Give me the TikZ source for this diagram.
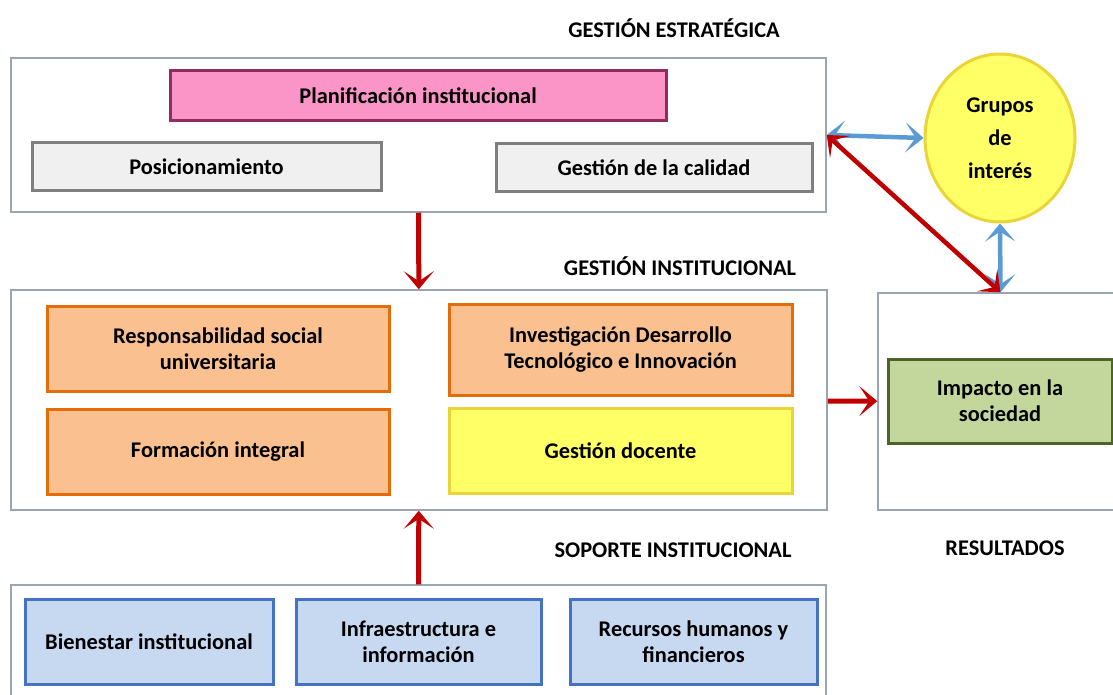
\documentclass[tikz,border=0pt]{standalone}
\usepackage{fontspec}
\setmainfont{Carlito}
\usetikzlibrary{arrows.meta,shapes.geometric}
\definecolor{rojo}{HTML}{C00000}
\definecolor{celeste}{HTML}{5B9BD5}
\definecolor{marco}{HTML}{9AA5B1}
\definecolor{rosafondo}{HTML}{FB95C8}
\definecolor{rosaborde}{HTML}{8E2F5B}
\definecolor{grisfondo}{HTML}{F0F0F0}
\definecolor{grisborde}{HTML}{7F7F7F}
\definecolor{naranjafondo}{HTML}{FAC08F}
\definecolor{naranjaborde}{HTML}{E46C0A}
\definecolor{amarillofondo}{HTML}{FFFF66}
\definecolor{amarilloborde}{HTML}{EBD43A}
\definecolor{verdefondo}{HTML}{C3D69B}
\definecolor{verdeborde}{HTML}{4F6228}
\definecolor{azulfondo}{HTML}{C6D9F1}
\definecolor{azulborde}{HTML}{4472C4}
\begin{document}
\begin{tikzpicture}[x=1pt,y=-1pt,
every node/.style={font=\fontsize{22.4}{26}\selectfont\bfseries, align=center, inner sep=0pt},
area/.style={draw=marco, line width=1.5pt, fill=white},
caja/.style={line width=3pt},
rosa/.style={caja, draw=rosaborde, fill=rosafondo, minimum height=50pt},
gris/.style={caja, draw=grisborde, fill=grisfondo, minimum height=48pt},
naranja/.style={caja, draw=naranjaborde, fill=naranjafondo, minimum width=342pt},
amarilla/.style={caja, draw=amarilloborde, fill=amarillofondo, minimum width=343pt},
verde/.style={caja, draw=verdeborde, fill=verdefondo},
azul/.style={caja, draw=azulborde, fill=azulfondo, minimum height=85pt},
titulo/.style={font=\fontsize{22.4}{26}\selectfont\bfseries},
punta/.tip={Stealth[length=18pt,width=30pt,inset=10pt]},
flecha/.style={line width=5pt, rojo, -punta},
doble/.style={line width=4.5pt, punta-punta}
]
\useasboundingbox (0,0) rectangle (1113,695);

% gestion estrategica
\node[area, minimum width=815pt, minimum height=154pt] (estr) at (418.5,135) {};
\node[titulo] (testr) at (674,28) {GESTIÓN ESTRATÉGICA};
\node[rosa, minimum width=496pt] (plan) at (418,96) {Planificación institucional};
\node[gris, minimum width=349pt] (pos) at (206.5,167) {Posicionamiento};
\node[gris, minimum width=316pt] (cal) at (654,167.5) {Gestión de la calidad};

% grupos de interes
\node[ellipse, draw=amarilloborde, fill=amarillofondo, line width=3pt, minimum width=150pt, minimum height=168pt] (grupos) at (1000,138) {Grupos\\[7pt]de\\[7pt]interés};

% gestion institucional
\node[area, minimum width=816pt, minimum height=220pt] (inst) at (419,400) {};
\node[titulo] (tinst) at (680,266) {GESTIÓN INSTITUCIONAL};
\node[naranja, minimum height=85pt] (resp) at (218,348.5) {Responsabilidad social\\universitaria};
\node[naranja, minimum height=85pt] (form) at (218,451.5) {Formación integral};
\node[naranja, minimum width=343pt, minimum height=91pt] (inv) at (620.5,349.5) {Investigación Desarrollo\\Tecnológico e Innovación};
\node[amarilla, minimum height=85pt] (doc) at (620.5,450.5) {Gestión docente};

% resultados
\node[area, minimum width=245pt, minimum height=217pt] (res) at (1000.5,401.5) {};
\node[verde, minimum width=224pt, minimum height=84pt] (imp) at (1000,401) {Impacto en la\\sociedad};
\node[titulo] (tres) at (1005,548) {RESULTADOS};

% soporte institucional
\node[area, minimum width=815pt, minimum height=120pt] (sop) at (418.5,645) {};
\node[titulo] (tsop) at (673,550) {SOPORTE INSTITUCIONAL};
\node[azul, minimum width=248pt] (bien) at (149,641.5) {Bienestar institucional};
\node[azul, minimum width=245pt] (infra) at (418.5,641.5) {Infraestructura e\\información};
\node[azul, minimum width=247pt] (rec) at (693.5,641.5) {Recursos humanos y\\financieros};

\draw[flecha] (estr) -- (inst);
\draw[flecha] (sop) -- (inst);
\draw[flecha] (inst) -- (res);
\draw[doble, celeste] (estr.east) -- (grupos.west);
\draw[doble, celeste] (grupos.south) -- (res.north);
\draw[doble, rojo] (estr.east) -- (res.north);
\end{tikzpicture}
\end{document}
